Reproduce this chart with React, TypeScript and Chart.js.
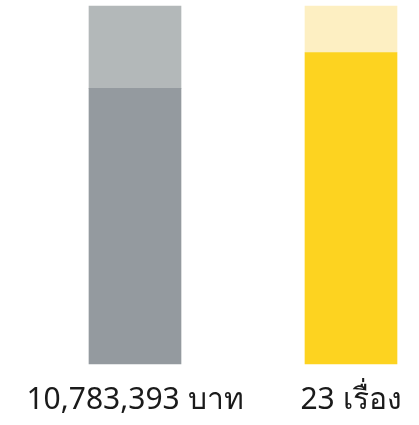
import React, { useEffect, useRef } from "react";
import { Chart, registerables } from "chart.js";

Chart.register(...registerables);

const categories = ["10,783,393 บาท", "23 เรื่อง"];
const usedValues = [77, 87];
const remainValues = [23, 13];

export default function App() {
  const ref = useRef<HTMLCanvasElement>(null);
  useEffect(() => {
    document.body.style.margin = "0";
    const ctx = ref.current!;
    const chart = new Chart(ctx, {
      type: "bar",
      data: {
        labels: categories,
        datasets: [
          {
            data: usedValues,
            backgroundColor: ["#949a9f", "#fdd320"],
            barThickness: 92,
            borderWidth: 0,
            clip: false as any,
          },
          {
            data: remainValues,
            backgroundColor: ["#b3b8b9", "#fdefc2"],
            barThickness: 92,
            borderWidth: 0,
            clip: false as any,
          },
        ],
      },
      options: {
        animation: false,
        responsive: false,
        layout: { padding: { top: 6, left: 135, right: 68, bottom: -3 } },
        plugins: { legend: { display: false }, tooltip: { enabled: false } },
        scales: {
          x: {
            type: "category",
            stacked: true,
            offset: false,
            ticks: {
              color: "#1a1a1a",
              font: { family: "'Noto Sans', sans-serif", size: 30, lineHeight: 1.0 },
              padding: 13,
              maxRotation: 0,
              autoSkip: false,
            },
            grid: { display: false },
            border: { display: false },
          },
          y: {
            stacked: true,
            min: 0,
            max: 100,
            display: false,
          },
        },
      },
    });
    return () => chart.destroy();
  }, []);
  return <canvas ref={ref} width={419} height={425} style={{ display: "block" }} />;
}
